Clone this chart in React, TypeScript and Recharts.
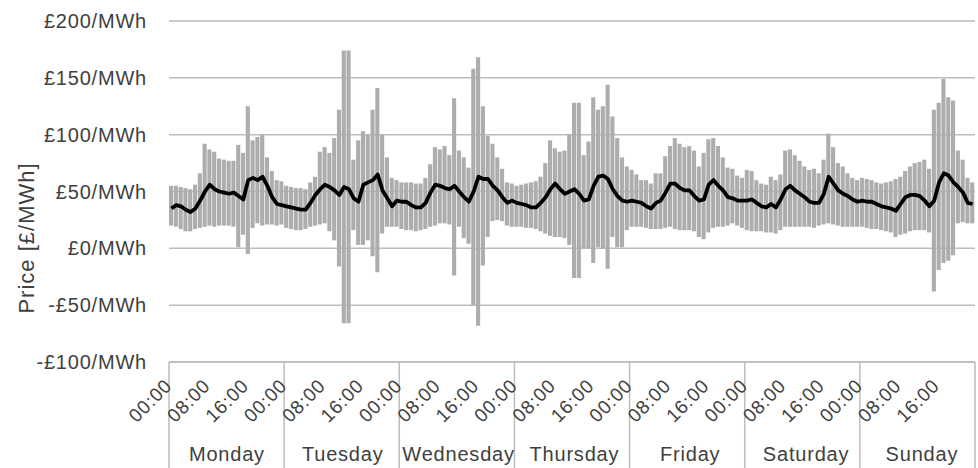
import { ComposedChart, Bar, Line, XAxis, YAxis, CartesianGrid } from 'recharts';

const days = ['Monday', 'Tuesday', 'Wednesday', 'Thursday', 'Friday', 'Saturday', 'Sunday'];
const hourLabels = ['00:00', '08:00', '16:00'];
const yTicks = [-100, -50, 0, 50, 100, 150, 200];

// hourly average price, Mon 00:00 -> Sun 23:00
const meanPrice = [
  35, 38, 37, 34, 32, 35, 42, 50, 56, 52, 50, 49, 48, 49, 46, 43, 60, 62, 60, 63, 55, 45, 39, 38,
  37, 36, 35, 34, 34, 40, 47, 52, 56, 54, 51, 47, 54, 52, 44, 41, 56, 58, 60, 65, 51, 44, 37, 42,
  41, 41, 38, 36, 36, 40, 49, 56, 55, 53, 52, 55, 50, 45, 41, 50, 63, 61, 61, 55, 51, 45, 40, 42,
  40, 39, 38, 36, 36, 40, 45, 52, 57, 52, 48, 50, 52, 48, 42, 43, 55, 63, 64, 61, 52, 46, 42, 41,
  42, 41, 40, 37, 35, 40, 42, 49, 57, 57, 53, 51, 51, 46, 42, 43, 56, 60, 55, 51, 45, 44, 42, 42,
  42, 43, 40, 37, 36, 39, 36, 43, 52, 55, 51, 48, 45, 41, 40, 40, 48, 63, 57, 51, 48, 46, 43, 41,
  42, 41, 41, 39, 37, 36, 35, 33, 39, 45, 47, 47, 46, 42, 37, 42, 58, 66, 64, 58, 54, 49, 40, 39,
];

// hourly max price
const highPrice = [
  55, 55, 54, 53, 52, 56, 66, 92, 87, 85, 79, 78, 77, 77, 91, 84, 125, 95, 98, 100, 80, 68, 60, 59,
  55, 54, 53, 53, 52, 58, 63, 85, 89, 84, 97, 122, 174, 174, 78, 95, 103, 100, 122, 141, 100, 80, 62, 60,
  58, 58, 58, 57, 57, 62, 74, 89, 87, 90, 82, 132, 86, 80, 71, 158, 168, 125, 99, 92, 80, 70, 58, 57,
  55, 56, 57, 58, 59, 63, 75, 95, 88, 85, 86, 100, 128, 128, 82, 94, 133, 122, 125, 144, 116, 97, 80, 72,
  69, 65, 60, 60, 57, 66, 66, 81, 90, 97, 92, 89, 90, 86, 72, 84, 96, 97, 90, 80, 71, 70, 64, 62,
  69, 68, 60, 57, 56, 63, 60, 65, 86, 87, 82, 77, 72, 69, 70, 66, 78, 101, 89, 75, 72, 66, 62, 60,
  62, 61, 60, 58, 57, 58, 59, 61, 63, 68, 72, 75, 76, 78, 70, 122, 128, 149, 133, 130, 86, 78, 62, 58,
];

// hourly min price
const lowPrice = [
  20, 19, 17, 15, 15, 17, 18, 19, 20, 19, 20, 20, 20, 19, 1, 12, -5, 18, 22, 20, 21, 21, 20, 21,
  18, 17, 16, 16, 17, 19, 20, 21, 22, 15, 7, -16, -66, -66, 16, 3, 3, 7, -7, -21, 13, 19, 19, 19,
  17, 16, 16, 15, 16, 17, 19, 20, 22, 22, 21, -24, 19, 9, 4, -50, -68, -15, 10, 24, 25, 24, 20, 19,
  19, 19, 18, 18, 17, 15, 13, 11, 10, 10, 9, 3, -26, -26, 0, 0, -13, 1, 0, -18, 10, 1, 1, 16,
  19, 19, 19, 18, 17, 17, 17, 18, 19, 17, 16, 16, 16, 15, 10, 8, 14, 18, 19, 19, 20, 22, 20, 18,
  16, 15, 15, 15, 14, 14, 13, 16, 19, 19, 19, 19, 19, 19, 18, 20, 21, 22, 21, 20, 19, 19, 19, 19,
  19, 18, 17, 17, 16, 15, 14, 10, 12, 13, 15, 16, 16, 16, 14, -38, -19, -13, -11, -6, 22, 23, 22, 22,
];

const data = meanPrice.map((m, i) => ({
  hour: i + 0.5,
  range: [lowPrice[i], highPrice[i]],
  mean: m,
}));

const hourTicks = days.flatMap((_, d) => [0, 8, 16].map((h) => d * 24 + h)).concat(days.length * 24);
const dayTicks = days.map((_, d) => d * 24 + 12);

const FONT = '"Liberation Sans", Arial, sans-serif';
const TEXT = '#404040';
const LINE = '#bdbdbd';

const fmtPrice = (v: number) => (v < 0 ? `-£${-v}/MWh` : `£${v}/MWh`);

const PriceTick = ({ x, y, payload }: any) => (
  <text x={x} y={y} dy="0.35em" textAnchor="end" fill={TEXT} fontSize={20} fontFamily={FONT} letterSpacing={0.8}>
    {fmtPrice(payload.value)}
  </text>
);

const HourTick = ({ x, y, payload }: any) => {
  const v = payload.value;
  const tx = x + 4;
  const ty = y + 25;
  return (
    <g>
      {v % 24 === 0 && <line x1={x} x2={x} y1={y} y2={y + 110} stroke={LINE} strokeWidth={1.5} />}
      {v < 168 && (
        <text
          x={tx}
          y={ty}
          transform={`rotate(-45, ${tx}, ${ty})`}
          textAnchor="end"
          fill={TEXT}
          fontSize={19}
          fontFamily={FONT}
          letterSpacing={0.8}
        >
          {hourLabels[(v % 24) / 8]}
        </text>
      )}
    </g>
  );
};

const DayTick = ({ x, y, payload }: any) => (
  <text x={x} y={y + 29} textAnchor="middle" fill={TEXT} fontSize={20} fontFamily={FONT} letterSpacing={0.8}>
    {days[(payload.value - 12) / 24]}
  </text>
);

const PriceTitle = () => (
  <text
    x={34}
    y={238}
    transform="rotate(-90, 34, 238)"
    textAnchor="middle"
    fill={TEXT}
    fontSize={22}
    fontFamily={FONT}
    letterSpacing={1}
  >
    Price [£/MWh]
  </text>
);

export default function App() {
  return (
    <div style={{ position: 'absolute', left: 0, top: 0, background: '#fff' }}>
      <ComposedChart width={978} height={468} data={data} margin={{ top: 21, right: 3, bottom: 0, left: 0 }}>
        <CartesianGrid horizontal vertical={false} stroke={LINE} strokeWidth={1.5} />
        <XAxis
          dataKey="hour"
          type="number"
          domain={[0, 168]}
          ticks={hourTicks}
          interval={0}
          height={70}
          tickSize={0}
          tickMargin={0}
          tickLine={false}
          axisLine={{ stroke: LINE, strokeWidth: 1.5 }}
          tick={<HourTick />}
        />
        <XAxis
          xAxisId="day"
          type="number"
          domain={[0, 168]}
          ticks={dayTicks}
          interval={0}
          height={36}
          tickSize={0}
          tickMargin={0}
          tickLine={false}
          axisLine={false}
          tick={<DayTick />}
        />
        <YAxis
          type="number"
          domain={[-100, 200]}
          ticks={yTicks}
          interval={0}
          width={169}
          tickSize={0}
          tickMargin={22}
          tickLine={false}
          axisLine={false}
          tick={<PriceTick />}
          label={<PriceTitle />}
        />
        <Bar dataKey="range" fill="#adadad" barSize={4.1} isAnimationActive={false} />
        <Line
          dataKey="mean"
          type="linear"
          stroke="#000"
          strokeWidth={3.8}
          strokeLinejoin="round"
          dot={false}
          isAnimationActive={false}
        />
      </ComposedChart>
    </div>
  );
}
